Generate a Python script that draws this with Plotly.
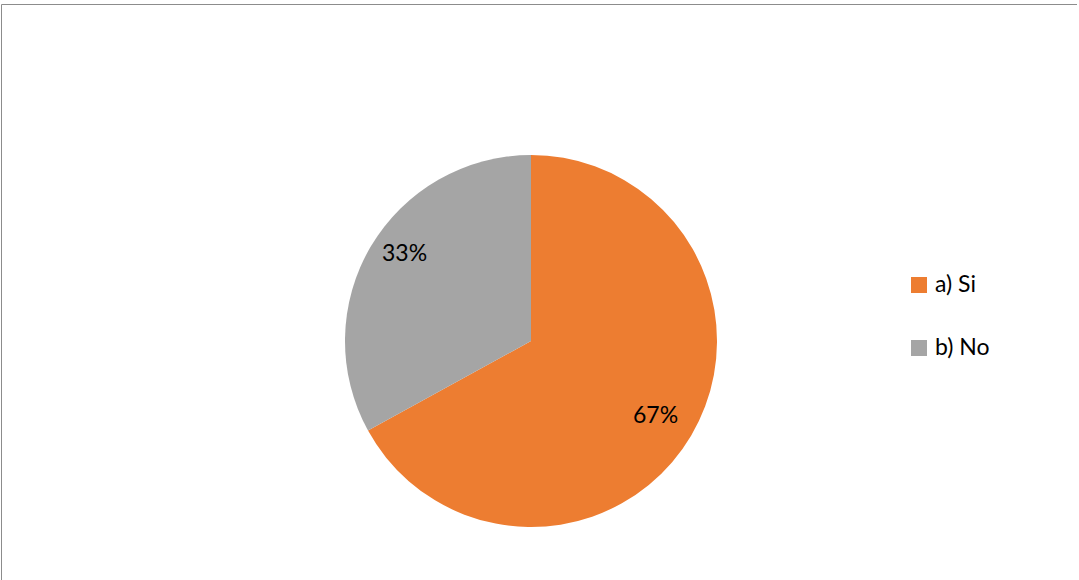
import math
import plotly.graph_objects as go

# Survey answers and their shares (percent)
labels = ["a) Si", "b) No"]
values = [67, 33]
colors = ["#ED7D31", "#A5A5A5"]

W, H = 1079, 580
# pie placement in pixels
cx, cy, r = 531, 341, 186

fig = go.Figure(
    go.Pie(
        labels=labels,
        values=values,
        marker=dict(colors=colors, line=dict(width=0)),
        sort=False,
        direction="clockwise",
        rotation=0,
        textinfo="none",
        hoverinfo="label+percent",
        showlegend=False,
        domain=dict(x=[(cx - r) / W, (cx + r) / W], y=[1 - (cy + r) / H, 1 - (cy - r) / H]),
    )
)

font_family = "Lato, 'Open Sans', sans-serif"
font_size = 23
annotations = []
shapes = []

# percentage labels placed along each slice bisector, nudged for fit
label_nudge = [(-4, -3), (2, -13)]
total = sum(values)
start = 0.0
for v, (ox, oy) in zip(values, label_nudge):
    mid = (start + v / 2) / total * 2 * math.pi
    start += v
    px = cx + 0.8 * r * math.sin(mid) + ox
    py = cy - 0.8 * r * math.cos(mid) + oy
    annotations.append(dict(
        x=px / W, y=1 - py / H, xref="paper", yref="paper",
        text=f"{round(v / total * 100)}%", showarrow=False,
        font=dict(family=font_family, size=font_size, color="#000000"),
        xanchor="center", yanchor="middle",
    ))

# legend: colour swatch followed by label
leg_x, leg_y0, leg_gap, sw = 911, 285, 63, 16
for i, (lab, col) in enumerate(zip(labels, colors)):
    yc = leg_y0 + i * leg_gap
    shapes.append(dict(
        type="rect", xref="paper", yref="paper",
        x0=leg_x / W, x1=(leg_x + sw) / W,
        y0=1 - (yc + sw / 2) / H, y1=1 - (yc - sw / 2) / H,
        fillcolor=col, line=dict(width=0),
    ))
    annotations.append(dict(
        x=(leg_x + sw + 6) / W, y=1 - (yc - 2) / H, xref="paper", yref="paper",
        text=lab, showarrow=False,
        font=dict(family=font_family, size=font_size, color="#000000"),
        xanchor="left", yanchor="middle",
    ))

# chart area frame (top and left edges)
shapes.append(dict(type="line", xref="paper", yref="paper",
                   x0=1.5 / W, x1=1077 / W, y0=1 - 4.5 / H, y1=1 - 4.5 / H,
                   line=dict(color="#8C8C8C", width=1)))
shapes.append(dict(type="line", xref="paper", yref="paper",
                   x0=1.5 / W, x1=1.5 / W, y0=0, y1=1 - 4.5 / H,
                   line=dict(color="#8C8C8C", width=1)))

fig.update_layout(
    width=W, height=H, autosize=False,
    margin=dict(l=0, r=0, t=0, b=0),
    paper_bgcolor="#FFFFFF", plot_bgcolor="#FFFFFF",
    annotations=annotations, shapes=shapes,
)

fig.write_html("out.html")
